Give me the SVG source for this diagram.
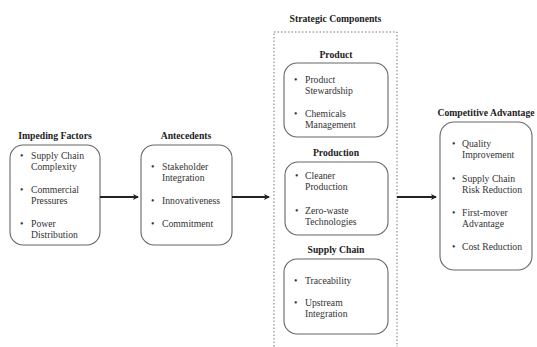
<svg xmlns="http://www.w3.org/2000/svg" width="537" height="347" viewBox="0 0 537 347">
<defs>
<style>
.t{font-family:"Liberation Serif","Times New Roman",serif;font-size:9.7px;fill:#333}
.h{font-family:"Liberation Serif","Times New Roman",serif;font-size:9.7px;font-weight:bold;fill:#222;text-anchor:middle}
.box{fill:#fff;stroke:#666;stroke-width:1.1}
.conn{stroke:#222;stroke-width:2;fill:none}
</style>
<marker id="ah" markerWidth="6" markerHeight="6" refX="5" refY="3" orient="auto" markerUnits="userSpaceOnUse">
<path d="M0,0 L6,3 L0,6 L1.5,3 Z" fill="#222"/>
</marker>
</defs>
<rect width="537" height="347" fill="#fff"/>

<g id="strategic">
<rect x="274" y="32" width="123" height="330" fill="none" stroke="#777" stroke-width="1" stroke-dasharray="1.5,2"/>
<text class="h" x="335.5" y="22">Strategic Components</text>
</g>

<g id="impeding">
<text class="h" x="55" y="139">Impeding Factors</text>
<rect class="box" x="10" y="145" width="90" height="100" rx="13"/>
<text class="t" x="20" y="159">•</text><text class="t" x="31" y="159">Supply Chain</text>
<text class="t" x="31" y="170">Complexity</text>
<text class="t" x="20" y="193">•</text><text class="t" x="31" y="193">Commercial</text>
<text class="t" x="31" y="204">Pressures</text>
<text class="t" x="20" y="227">•</text><text class="t" x="31" y="227">Power</text>
<text class="t" x="31" y="238">Distribution</text>
</g>

<g id="antecedents">
<text class="h" x="186" y="139">Antecedents</text>
<rect class="box" x="141" y="145" width="91" height="100" rx="13"/>
<text class="t" x="151" y="170">•</text><text class="t" x="162" y="170">Stakeholder</text>
<text class="t" x="162" y="181">Integration</text>
<text class="t" x="151" y="204">•</text><text class="t" x="162" y="204">Innovativeness</text>
<text class="t" x="151" y="227">•</text><text class="t" x="162" y="227">Commitment</text>
</g>

<g id="product">
<text class="h" x="336" y="58">Product</text>
<rect class="box" x="284" y="63" width="104" height="74" rx="13"/>
<text class="t" x="294" y="83">•</text><text class="t" x="305" y="83">Product</text>
<text class="t" x="305" y="94">Stewardship</text>
<text class="t" x="294" y="117">•</text><text class="t" x="305" y="117">Chemicals</text>
<text class="t" x="305" y="128">Management</text>
</g>

<g id="production">
<text class="h" x="336" y="156">Production</text>
<rect class="box" x="285" y="162" width="103" height="73" rx="13"/>
<text class="t" x="295" y="179">•</text><text class="t" x="305" y="179">Cleaner</text>
<text class="t" x="305" y="190">Production</text>
<text class="t" x="295" y="214">•</text><text class="t" x="305" y="214">Zero-waste</text>
<text class="t" x="305" y="225">Technologies</text>
</g>

<g id="supplychain">
<text class="h" x="336" y="253">Supply Chain</text>
<rect class="box" x="284" y="259" width="104" height="75" rx="13"/>
<text class="t" x="294" y="284">•</text><text class="t" x="305" y="284">Traceability</text>
<text class="t" x="294" y="306">•</text><text class="t" x="305" y="306">Upstream</text>
<text class="t" x="305" y="317">Integration</text>
</g>

<g id="competitive">
<text class="h" x="486" y="116">Competitive Advantage</text>
<rect class="box" x="440" y="122" width="92" height="148" rx="14"/>
<text class="t" x="452" y="147">•</text><text class="t" x="462" y="147">Quality</text>
<text class="t" x="462" y="158">Improvement</text>
<text class="t" x="452" y="182">•</text><text class="t" x="462" y="182">Supply Chain</text>
<text class="t" x="462" y="193">Risk Reduction</text>
<text class="t" x="452" y="216">•</text><text class="t" x="462" y="216">First-mover</text>
<text class="t" x="462" y="227">Advantage</text>
<text class="t" x="452" y="250">•</text><text class="t" x="462" y="250">Cost Reduction</text>
</g>

<g id="connectors">
<line class="conn" x1="100" y1="197" x2="138" y2="197" marker-end="url(#ah)"/>
<line class="conn" x1="232" y1="197" x2="269" y2="197" marker-end="url(#ah)"/>
<line class="conn" x1="397" y1="197" x2="436" y2="197" marker-end="url(#ah)"/>
</g>
</svg>
